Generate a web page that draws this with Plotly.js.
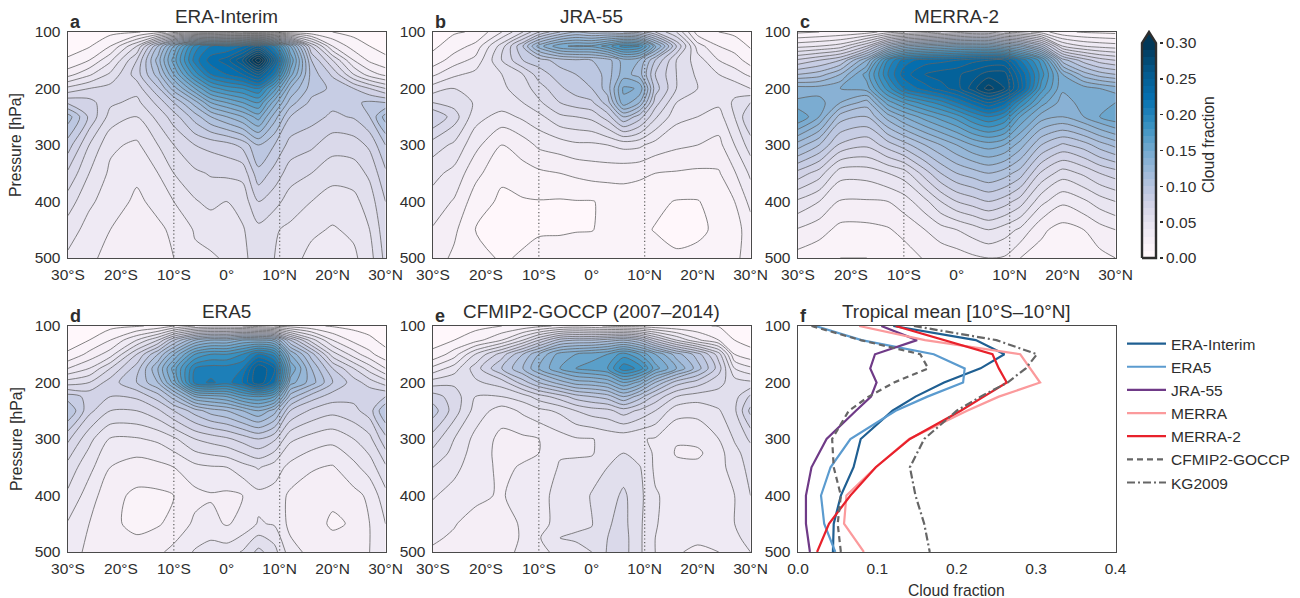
<!DOCTYPE html>
<html><head><meta charset="utf-8">
<script src="https://cdn.plot.ly/plotly-3.0.1.min.js"></script>
<style>html,body{margin:0;padding:0;background:#fff}</style></head>
<body><div id="chart" style="width:1300px;height:598px"></div>
<script>
// Cloud fraction in percent, rows = pressure, columns = latitude
const LAT=[-30,-26,-22,-17,-13,-10,-6,-3,0,3,6,9,12,16,20,24,27,30];
const PRES=[100,125,150,175,200,225,250,300,350,400,450,500];
const PRES_GOCCP=[100,125,150,175,200,225,250,300,325,350,400,450,475,500];
const ERA_INTERIM=[
[.5,.6,.7,.9,1.5,2.5,3,3,2.5,2,1.5,1.5,1.3,1.2,1,.7,.6,.5],
[.7,.9,2,5,10,14,19.5,21,21,22,24,20,14,7,3,1.5,1,.7],
[1.1,2,3.8,7,11.5,15.5,20.5,22.5,23.5,26,31,24,16,9,6,3,1.8,1.2],
[2.6,3.8,5.2,7.5,10.5,14,18.5,21,22,23,25,21,14.5,9.6,7.8,5,3.5,2.7],
[5.3,6,6.4,6.4,8.8,11.5,15,17.5,18.5,19,20,16.5,12,9.5,8.8,8,7,6],
[7.8,7.4,6.2,5.7,7.3,9,11.5,14,15,16,17,13.5,10.5,8.7,8.3,8.8,9.2,9],
[10.5,7.8,5.6,5,6.3,7.5,9.5,11,12,13,14.5,11.5,9,8.4,7.8,8.1,9,11.5],
[8.5,6,4.2,3.8,5,6,7,7.3,7.6,8.3,10,9,7.6,7.2,6.4,6.5,7.2,9],
[6.8,5,3.8,3.2,4,5,5.8,6.1,6.2,6.3,8.7,7.6,6.5,6,5.4,5.5,6.2,7.8],
[5.5,4.2,3.5,2.8,3.3,4,4.9,5.3,5,5.4,7,6.4,5.5,5,4.5,4.7,5.5,7],
[4.5,3.6,3,2.5,2.8,3.2,4.1,4.3,4.4,4.9,5.7,5.1,4.8,4.2,3.9,4.2,5,6.6],
[3.8,3.2,2.7,2.2,2.6,3,3.8,3.9,4.1,4.8,5.4,5,4.4,3.7,3.5,3.8,4.6,6.3]];
const JRA55=[
[.5,.9,1.1,3,5,7,9,10,9.5,9.5,9,8.5,7,5,1.5,1,.8,.5],
[.8,1.5,2.3,5.5,9,12.5,14.8,15.2,15.2,16.5,18.5,18,13.5,8,3.5,2,1.5,.9],
[1.4,2.5,3.3,6,8,8.5,9.5,9.8,10,10.5,12.5,12,9,6,4.5,3,2.5,1.5],
[2.8,3.8,4.3,5,6,7.5,8.5,9,9.2,10.5,12.5,11.5,8,6,4.8,4,3.4,2.8],
[4.5,5,4.7,4.8,5.5,6.5,7.8,8.5,9,10.5,14.2,13.9,8.5,6,5,4.5,4.6,4],
[6,5.6,4.9,4.6,5,5.8,7,7.5,7.8,9.5,13.7,12,7.5,5,4.6,4.2,5.2,6],
[8,6.5,4.4,3.6,4.2,4.7,5.8,6,6.3,7.5,10,8.5,6.2,4.3,4,3.6,5,7],
[5.5,4.8,3.3,2,2.5,3.2,3.5,3.8,3.8,4,4.3,4.2,3.6,3.2,3,2.7,4,5.5],
[4.3,3.7,2.3,1.2,1.6,1.8,2,2.2,2.4,2.4,2.3,2.2,2,1.9,1.8,1.9,2.9,4.2],
[3.6,2.9,1.5,.8,.9,.95,.9,.95,.95,1.2,1.5,1.4,1.2,.95,.95,1.4,2,3.3],
[2.9,2.2,1,.7,.8,.9,.9,.95,.97,1.2,1.5,1.2,.95,.8,.85,1.15,1.6,2.5],
[2.5,1.8,1.3,.9,1.1,1.3,1.4,1.5,1.5,1.7,1.9,1.6,1.4,1.1,1.2,1.4,1.9,2.2]];
const MERRA2=[
[.8,1,1.2,1.5,2.5,3,3.5,4,4.5,5,5,4,3.5,2.5,1.2,.9,.8,.7],
[3.7,4,4.5,7,11,13,14,14.5,15,15,15,14,13,10,5,4,3.7,3.5],
[7.2,8,9,13,19,21.5,22.5,22.7,23,23.7,24,24,21,17.5,10.5,8.5,7.5,7],
[10,10.5,12,15.5,20,22.5,24,24.5,24.8,25.5,26.5,26.5,23,18.5,14,11.5,10.5,10],
[13.5,13.5,14,14.5,18.5,21,22.5,23.5,24.5,26.5,28.5,27,23.5,17.5,14.2,14.5,14,13.5],
[14.2,14.4,13,11.5,15.5,17,18.5,19.5,21,22.5,24,22.5,19,15.5,13.5,14.4,14.6,15],
[16,14,10.5,10,12.5,14,15.5,16.5,17.5,19,20,19,16,13.5,13,14,15,15.8],
[11.5,10,7.8,7.2,8.5,9.5,11,12,13,14,14.5,14,12.5,10,8.8,9.5,10.5,11.3],
[7.6,6.5,4.4,4.4,5,5.5,7.5,9,10,10.5,11,10.5,9.5,6.8,5.5,6.2,7,7.5],
[4.8,4,2.9,2.9,3,3.5,4.7,6,7,7.5,8,7.5,6.5,4.3,3.2,3.8,4.5,5],
[2.9,2.4,1.7,1.7,1.9,2.3,3,3.6,4,4.5,5,4.5,3.8,2.2,1.6,2,2.6,3],
[1.6,1.3,1,1,1.2,1.5,2.1,2.3,2.5,2.8,3,2.9,2,1.6,1.2,1.4,1.7,2]];
const ERA5=[
[.5,.6,.7,.9,1.2,2,3,3.2,3.2,3,2.5,2,1.5,1.2,.9,.7,.6,.5],
[.7,1,2,4,6,9,12,13,13,14,14,13.5,9,5.5,3,1.7,1.2,.7],
[1.1,2.3,3.5,7,10,13,17,18,18,19,21,19.5,13,9.5,5.5,3.5,2.3,1.3],
[3,4,6,8.5,12,15.5,20,20.5,20.5,21,25,23,15,11,8,6,4.5,3],
[5.5,6,7.5,9,11,14.5,20.5,21.2,20.5,22,25,22,13.5,11.5,9,7.5,6.5,5.5],
[8.5,7.7,7,7.2,8.5,10.5,14,14.5,15,16.5,17,16,10.5,8.5,7.5,7.3,7.9,8],
[10,7.3,6,6,6.8,8,9.5,10.5,11,12,13,11.5,8,6.8,6.3,6.7,7.5,10],
[7.2,5.3,3.9,3.9,4.2,4.8,6,6.4,6.8,7.4,8,7.2,5.2,4.6,4.3,5,5.7,7.7],
[5.6,4.3,3,2.5,2.7,3,3.7,3.9,4,4.6,5.1,4.5,3.7,3.1,2.9,3.7,4.5,5.8],
[4.8,3.5,2.3,1.8,1.8,2,2.7,2.9,2.8,3,3.7,3.6,2.8,2.5,2.2,2.7,3.2,4.7],
[3.9,3,2.2,1.75,1.9,2.3,3.2,3.3,2.9,3.3,4.1,3.9,2.7,2.4,1.85,2.1,3,4],
[3.4,2.8,2.5,2.4,2.8,3.3,4.1,4.5,4.5,5.1,6.3,5.4,3.4,2.7,2.5,2.7,3,3.9]];
const GOCCP=[
[.5,.6,.7,1,1.3,1.7,2.2,2.4,2.2,1.9,1.6,1.5,1.3,1.2,1.1,.95,.6,.5],
[.7,1,1.6,3,5,7,9.5,10,10,10.5,11,10,7.5,5,3.2,2,1,.7],
[1.2,2.5,5,7.5,10,12,14.5,15,15.5,16,17.5,16,14,11.5,9.5,6.5,2,1.3],
[3.3,4.5,6.5,9,11,13,15,16,16.5,17,19.7,18.7,15.5,13,10.5,7.5,4,3.2],
[5.5,5.8,5.8,6.5,8.5,10,11.5,12.5,12.7,13.3,15,13.7,11,8.5,7.5,6.3,5.5,5.2],
[7.5,6.5,5,5,5.5,6.5,7.5,8.5,9,9.5,11,9.5,7.7,6,5.5,5.6,5.6,7.2],
[8.5,6.5,4.6,3.5,4.2,4.7,5.2,6,6.5,6.7,7.5,6.8,6,4.4,4.3,4.9,5.8,8.3],
[6.5,5,3.7,2.7,2.8,3,3.6,3.9,3.95,4.3,4.3,4.1,3.9,3.1,3.3,4,5.1,6.2],
[5.7,4.7,3.5,2.7,2.8,3,3.9,3.95,3.9,4.6,5,4.4,3.9,2.9,2.8,3.6,4.7,5.5],
[5,4.3,3.4,2.8,3.1,3.3,4.1,4.1,4.4,5,5.5,5.1,3.8,3.3,3.3,3.6,4.5,5.3],
[4.1,3.6,3.2,2.9,3.5,3.8,4.2,4.3,5.1,5.5,6.2,5.3,4.1,3.6,3.6,3.7,4,5],
[3.4,3.05,2.7,2.7,3.1,3.7,4.3,4.7,4.95,5.9,6.3,5.2,4.1,3.3,3.4,3.5,4,4.8],
[3.1,2.9,2.5,2.6,3.1,3.9,5,5.2,5.2,6,6.4,5.2,4,3,3.2,3.3,3.7,4.5],
[2.9,2.7,2.3,2.7,3.2,3.9,4.1,4.5,5,6.1,6.4,5.2,4,3.1,2.8,3,3.6,4]];
// Tropical mean profiles (panel f), cloud fraction at PRES
const PROFILE_ERA_INTERIM=[.12,.224,.26,.23,.184,.148,.119,.079,.07,.054,.045,.044];
const PROFILE_ERA5=[.022,.08,.171,.21,.208,.163,.123,.066,.041,.029,.033,.047];
const PROFILE_JRA55=[.105,.15,.097,.091,.099,.092,.073,.036,.017,.01,.01,.015];
const PROFILE_MERRA=[.077,.16,.28,.293,.305,.253,.213,.14,.098,.061,.058,.083];
const PROFILE_MERRA2=[.123,.184,.245,.253,.263,.234,.205,.141,.098,.066,.039,.024];
const PROFILE_GOCCP=[.017,.079,.154,.164,.121,.089,.064,.043,.045,.054,.05,.054];
const PROFILE_KG2009=[.146,.25,.301,.287,.264,.23,.2,.159,.141,.148,.159,.166];
const TROPICS=[-10,10];
const LAT_TICKS=[-30,-20,-10,0,10,20,30];
const LAT_LABELS=['30°S','20°S','10°S','0°','10°N','20°N','30°N'];
const P_TICKS=[100,200,300,400,500];
const F_TICKS=[0,0.1,0.2,0.3,0.4];
const F_LABELS=['0.0','0.1','0.2','0.3','0.4'];
const CB_TICKS=[0,0.05,0.1,0.15,0.2,0.25,0.3];
const CB_LABELS=['0.00','0.05','0.10','0.15','0.20','0.25','0.30'];

const W=1300,H=598,INK='#2e2e2e',FONT='"Liberation Sans", Arial, sans-serif',TICK=15.5;
const PUBU=[[0,'#fff7fb'],[.125,'#ece7f2'],[.25,'#d0d1e6'],[.375,'#a6bddb'],[.5,'#74a9cf'],[.625,'#3690c0'],[.75,'#0570b0'],[.875,'#045a8d'],[1,'#023858']];
// band k of 30 takes PuBu(k/29); plotly draws band k at (k+1)/31 of the scale
const PUBU_BANDS=[[0,'#fff7fb']].concat(PUBU.map(([a,c])=>[(a*29+1)/31,c])).concat([[1,'#023858']]);
const layout={width:W,height:H,margin:{l:0,r:0,t:0,b:0},paper_bgcolor:'#fff',plot_bgcolor:'#fff',showlegend:true,
 font:{family:FONT,color:INK,size:TICK},
 legend:{x:1122/W,y:1-327/H,xanchor:'left',yanchor:'top',font:{size:TICK,color:INK},itemwidth:39,tracegroupgap:0.7,bgcolor:'rgba(0,0,0,0)',traceorder:'normal'},
 annotations:[]};
const traces=[];
function note(text,x,y,o){layout.annotations.push(Object.assign({text,x:x/W,y:1-y/H,xref:'paper',yref:'paper',xanchor:'center',yanchor:'middle',showarrow:false,font:{size:18.9,color:INK}},o||{}));}
const COLX=[[68,385.5],[433,750.5],[798,1115.5]],ROWY=[[32,258],[326,552]];
function axes(id,col,row,xopt){
 const s=id===1?'':id;
 layout['xaxis'+s]=Object.assign({domain:[COLX[col][0]/W,COLX[col][1]/W],anchor:'y'+s,range:[-30,30],tickmode:'array',tickvals:LAT_TICKS,ticktext:LAT_LABELS,
  showgrid:false,zeroline:false,showline:true,mirror:true,linecolor:'#4a4a4a',linewidth:1.4,ticks:'outside',ticklen:2,tickcolor:'rgba(0,0,0,0)',tickfont:{size:TICK,color:INK}},xopt||{});
 layout['yaxis'+s]={domain:[1-ROWY[row][1]/H,1-ROWY[row][0]/H],anchor:'x'+s,range:[500,100],tickmode:'array',tickvals:P_TICKS,
  showgrid:false,zeroline:false,showline:true,mirror:true,linecolor:'#4a4a4a',linewidth:1.4,ticks:'outside',ticklen:3,tickcolor:'rgba(0,0,0,0)',tickfont:{size:TICK,color:INK}};
}
function panel(id,col,row,letter,title,z,pres){
 axes(id,col,row);
 const s=id===1?'':id;
 traces.push({type:'contour',x:LAT,y:pres,z:z.map(r=>r.map(v=>v/100)),xaxis:'x'+s,yaxis:'y'+s,showscale:false,showlegend:false,hoverinfo:'skip',
  autocontour:false,colorscale:PUBU_BANDS,contours:{coloring:'fill',start:0,end:.3,size:.01,showlines:true},line:{color:'#636363',width:.8,smoothing:.8}});
 TROPICS.forEach(t=>traces.push({type:'scatter',mode:'lines',x:[t,t],y:[100,500],xaxis:'x'+s,yaxis:'y'+s,showlegend:false,hoverinfo:'skip',line:{color:'#5e5e5e',width:1.2,dash:'1.2px,2.4px'}}));
 const [x0,x1]=COLX[col],[y0]=ROWY[row];
 note(title,(x0+x1)/2,y0-15,{});
 note('<b>'+letter+'</b>',x0,y0-10,{xanchor:'left',font:{size:18,color:INK}});
}
panel(1,0,0,'a','ERA-Interim',ERA_INTERIM,PRES);
panel(2,1,0,'b','JRA-55',JRA55,PRES);
panel(3,2,0,'c','MERRA-2',MERRA2,PRES);
panel(4,0,1,'d','ERA5',ERA5,PRES);
panel(5,1,1,'e','CFMIP2-GOCCP (2007–2014)',GOCCP,PRES_GOCCP);
// Panel f
axes(6,2,1,{range:[0,.4],tickvals:F_TICKS,ticktext:F_LABELS});
const [fx0,fx1]=COLX[2],[fy0]=ROWY[1];
note('Tropical mean [10°S–10°N]',(fx0+fx1)/2,fy0-15,{});
note('<b>f</b>',fx0,fy0-10,{xanchor:'left',font:{size:18,color:INK}});
[['ERA-Interim',PROFILE_ERA_INTERIM,'#1f5f92','solid'],['ERA5',PROFILE_ERA5,'#5b9bcf','solid'],['JRA-55',PROFILE_JRA55,'#6f3a87','solid'],
 ['MERRA',PROFILE_MERRA,'#fb9a9c','solid'],['MERRA-2',PROFILE_MERRA2,'#e8212b','solid'],['CFMIP2-GOCCP',PROFILE_GOCCP,'#666666','6px,4px'],['KG2009',PROFILE_KG2009,'#666666','8px,3px,2px,3px']]
 .forEach(([name,x,color,dash])=>traces.push({type:'scatter',mode:'lines',name,x,y:PRES,xaxis:'x6',yaxis:'y6',legendgroup:name,line:{color,width:2.2,dash}}));
// Colour bar as its own small axes, with a little room round the bar for its outline
const CB_TOP=.3*226/215, CB_PAD_X=3/14, CB_PAD_Y=.3*3/215;
layout.xaxis7={domain:[1139/W,1159/W],anchor:'y7',range:[-CB_PAD_X,1+CB_PAD_X],visible:false,fixedrange:true};
layout.yaxis7={domain:[1-261/H,1-29/H],anchor:'x7',side:'right',range:[-CB_PAD_Y,CB_TOP+CB_PAD_Y],tickmode:'array',tickvals:CB_TICKS,ticktext:CB_LABELS,showgrid:false,zeroline:false,showline:false,
 ticks:'outside',ticklen:3,tickwidth:1.5,tickcolor:'#2e2e2e',tickfont:{size:TICK,color:INK}};
const edges=[],bands=[];
for(let i=0;i<=30;i++)edges.push(i/100);
for(let i=0;i<30;i++)bands.push([i/29]);
traces.push({type:'heatmap',x:[0,1],y:edges,z:bands,xaxis:'x7',yaxis:'y7',zmin:0,zmax:1,colorscale:PUBU,showscale:false,showlegend:false,hoverinfo:'skip'});
traces.push({type:'scatter',mode:'lines',x:[0,.5,1,0],y:[.3,CB_TOP,.3,.3],fill:'toself',fillcolor:'#023858',line:{width:0},xaxis:'x7',yaxis:'y7',showlegend:false,hoverinfo:'skip'});
traces.push({type:'scatter',mode:'lines',x:[0,0,.5,1,1,0],y:[0,.3,CB_TOP,.3,0,0],line:{color:'#2e2e2e',width:2.4},xaxis:'x7',yaxis:'y7',showlegend:false,hoverinfo:'skip'});
const SIDE={size:15.7,color:INK};
note('Pressure [hPa]',16,145,{textangle:-90,font:SIDE});
note('Pressure [hPa]',16,439,{textangle:-90,font:SIDE});
note('Cloud fraction',1209,145,{textangle:-90,font:SIDE});
note('Cloud fraction',956,590,{font:SIDE});
Plotly.newPlot('chart',traces,layout,{displayModeBar:false,staticPlot:true});
</script></body></html>
